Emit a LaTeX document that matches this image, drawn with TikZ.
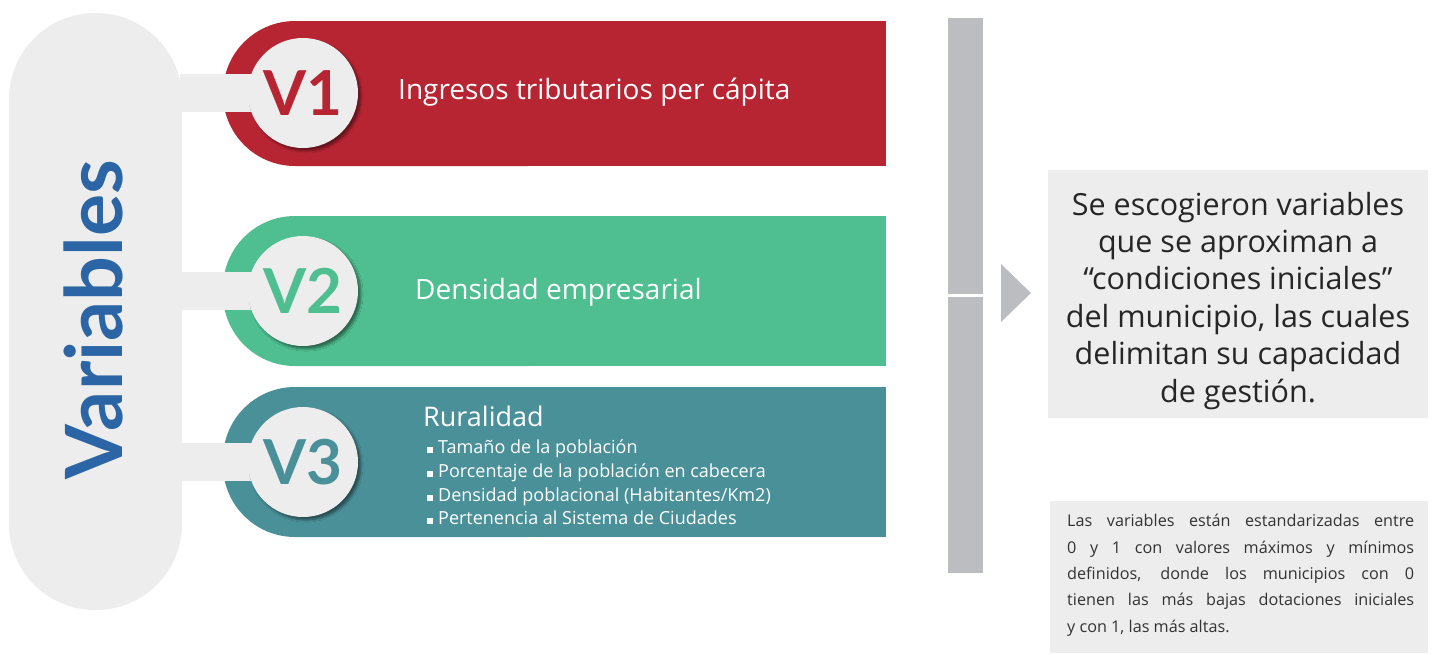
\documentclass[tikz,border=0pt]{standalone}
\usepackage{fontspec}
\setmainfont{Open Sans}
\newfontfamily\latofont{Lato}
\usetikzlibrary{shadows.blur}
\definecolor{cred}{HTML}{B72533}
\definecolor{cgreen}{HTML}{4FBF91}
\definecolor{cteal}{HTML}{4A9098}
\definecolor{cgreyl}{HTML}{EDEDED}
\definecolor{cbar}{HTML}{BCBDC1}
\definecolor{cblue}{HTML}{2B65A5}
\definecolor{ctext}{HTML}{262626}
\definecolor{ctextb}{HTML}{333333}
\begin{document}
\begin{tikzpicture}[x=1pt,y=-1pt,
  band/.style={rounded corners=72pt},
  vcircle/.style={circle, fill=cgreyl, minimum size=110pt, inner sep=0pt,
    font=\latofont\fontsize{62}{62}\selectfont\bfseries,
    blur shadow={shadow xshift=3pt, shadow yshift=-3pt, shadow blur steps=6, shadow opacity=45}},
  conn/.style={draw=cgreyl, line width=38pt},
  bandtext/.style={anchor=base west, text=white, inner sep=0pt, font=\fontsize{28}{30}\selectfont},
  bullettext/.style={anchor=base west, text=white, inner sep=0pt, font=\fontsize{18}{20}\selectfont},
  greybox/.style={fill=cgreyl, inner sep=0pt, anchor=north west},
]
\useasboundingbox (0,0) rectangle (1439,654);

% left pill
\node[fill=cgreyl, rounded corners=86pt, minimum width=173pt, minimum height=597pt, inner sep=0pt] (pill) at (95.5,311.5) {};
\node[rotate=90, anchor=base, text=cblue, inner sep=0pt, font=\latofont\fontsize{79}{79}\selectfont\bfseries] (vars) at (122,320) {Variables};

% bands
\fill[cred, band] (223,21) rectangle (600,166);
\fill[cred] (400,21) rectangle (886,166);
\fill[cgreen, band] (223,216) rectangle (600,366);
\fill[cgreen] (400,216) rectangle (886,366);
\fill[cteal, band] (223,387) rectangle (600,537);
\fill[cteal] (400,387) rectangle (886,537);

% circle positions
\coordinate (c1) at (303,93);
\coordinate (c2) at (303,291);
\coordinate (c3) at (303,462);

% connectors
\draw[conn] ([xshift=-2pt]pill.east |- c1) -- (c1);
\draw[conn] ([xshift=-2pt]pill.east |- c2) -- (c2);
\draw[conn] ([xshift=-2pt]pill.east |- c3) -- (c3);

% circles
\node[vcircle, text=cred] (v1) at (c1) {V1};
\node[vcircle, text=cgreen] (v2) at (c2) {V2};
\node[vcircle, text=cteal] (v3) at (c3) {V3};

% band texts
\node[bandtext] (t1) at (398,99) {Ingresos tributarios per cápita};
\node[bandtext] (t2) at (415,299) {Densidad empresarial};
\node[bandtext, font=\fontsize{27}{30}\selectfont] (t3) at (423,426) {Ruralidad};
\node[bullettext] (b1) at (427,453) {\rule{6pt}{6pt}\hspace{5pt}Tamaño de la población};
\node[bullettext] (b2) at (427,477) {\rule{6pt}{6pt}\hspace{5pt}Porcentaje de la población en cabecera};
\node[bullettext] (b3) at (427,501) {\rule{6pt}{6pt}\hspace{5pt}Densidad poblacional (Habitantes/Km2)};
\node[bullettext] (b4) at (427,524) {\rule{6pt}{6pt}\hspace{5pt}Pertenencia al Sistema de Ciudades};

% grey vertical bar
\fill[cbar] (948,18) rectangle (983,294);
\fill[cbar] (948,297) rectangle (983,573);
\fill[cbar] (1001,264) -- (1031,293) -- (1001,322) -- cycle;

% right box
\node[greybox, minimum width=380pt, minimum height=248pt] (rbox) at (1048,170) {};
\node[text=ctext, align=center, inner sep=0pt, anchor=base, font=\fontsize{30.5}{37.4}\selectfont] (rtext) at (1238,402)
  {Se escogieron variables\\que se aproximan a\\“condiciones iniciales”\\del municipio, las cuales\\delimitan su capacidad\\de gestión.};

% bottom box
\node[greybox, minimum width=378pt, minimum height=152pt] (nbox) at (1050,501) {};
\node[text=ctextb, align=left, inner sep=0pt, anchor=base west, font=\fontsize{16.2}{26.3}\selectfont] (ntext) at (1067,632)
  {\makebox[347pt][s]{Las variables están estandarizadas entre}\\
   \makebox[347pt][s]{0 y 1 con valores máximos y mínimos}\\
   \makebox[347pt][s]{definidos, donde los municipios con 0}\\
   \makebox[347pt][s]{tienen las más bajas dotaciones iniciales}\\
   y con 1, las más altas.};
\end{tikzpicture}
\end{document}
